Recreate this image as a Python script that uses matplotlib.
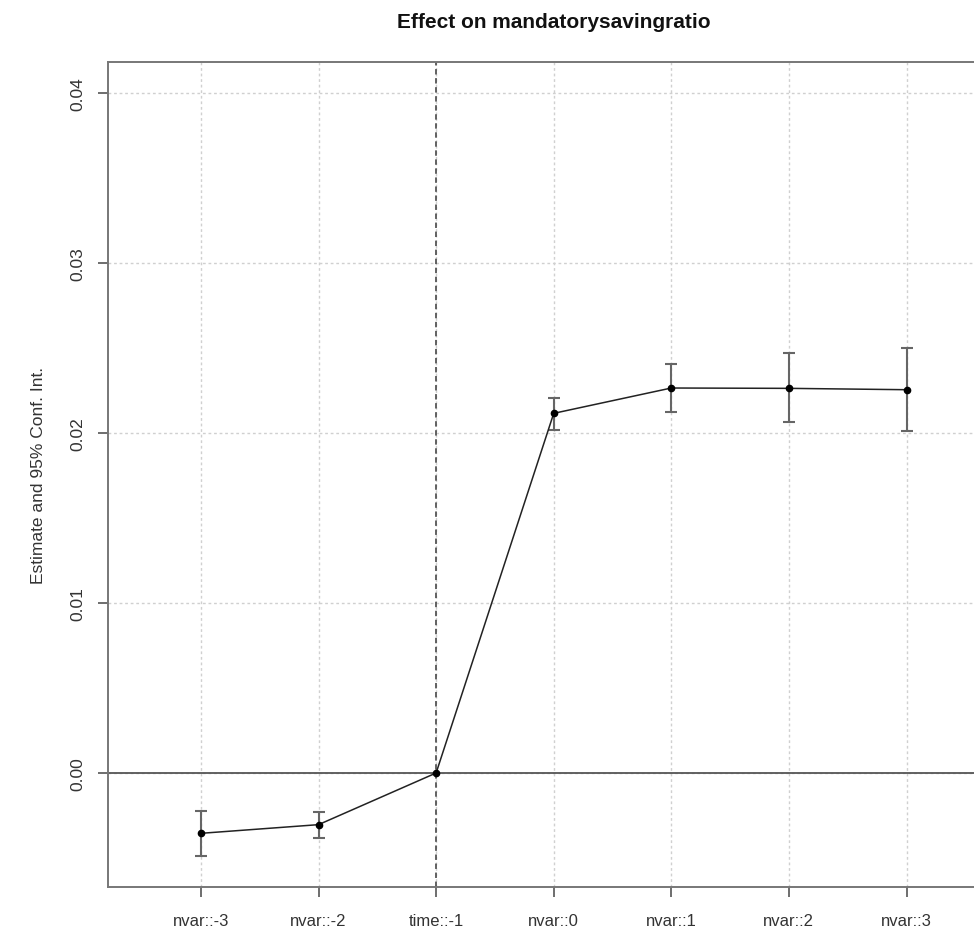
import matplotlib
matplotlib.use("Agg")
import matplotlib.pyplot as plt
import numpy as np

plt.rcParams['font.family'] = ['Liberation Sans', 'DejaVu Sans']

# coefficients de l'event study et intervalles de confiance a 95%
labels = ["nvar::-3", "nvar::-2", "time::-1", "nvar::0", "nvar::1", "nvar::2", "nvar::3"]
estimate = [-0.00355, -0.00304, 0.0, 0.02116, 0.02265, 0.02263, 0.02255]
ci_low = [-0.00486, -0.00382, 0.0, 0.02019, 0.02125, 0.02065, 0.02014]
ci_high = [-0.00222, -0.00229, 0.0, 0.02204, 0.02409, 0.02469, 0.02502]
ref_period = 3  # position de la periode de reference

x = np.arange(1, len(labels) + 1)
est = np.array(estimate)
lo = np.array(ci_low)
hi = np.array(ci_high)

fig = plt.figure(figsize=(9.74, 9.29), dpi=100)
ax = fig.add_axes([0.1109, 0.0441, 0.9152, 0.8877])

ax.set_xlim(0.21, 7.79)
ax.set_ylim(-0.00671, 0.04181)

# grille en pointilles
for yv in [0.0, 0.01, 0.02, 0.03, 0.04]:
    ax.axhline(yv, color="#d0d0d0", lw=1, ls=(0, (2, 2)), zorder=0)
for xv in x:
    ax.axvline(xv, color="#d0d0d0", lw=1, ls=(0, (2, 2)), zorder=0)

ax.axhline(0, color="#555555", lw=1.3, zorder=1)
ax.axvline(ref_period, color="#555555", lw=1.3, ls=(0, (3, 2)), zorder=1)

# barres d'erreur (sauf la reference)
m = x != ref_period
ax.errorbar(x[m], est[m], yerr=[est[m] - lo[m], hi[m] - est[m]], fmt="none",
            ecolor="#666666", elinewidth=1.5, capsize=4.5, capthick=1.5, zorder=2)
ax.plot(x, est, color="#222222", lw=1.1, zorder=3)
ax.plot(x, est, "o", color="black", ms=4.5, zorder=4)

ax.set_xticks(x)
ax.set_xticklabels(labels, fontsize=12)
ax.set_yticks([0.0, 0.01, 0.02, 0.03, 0.04])
ax.set_yticklabels(["0.00", "0.01", "0.02", "0.03", "0.04"], rotation=90, va="center",
                   fontsize=12.5)

ax.tick_params(axis="both", direction="out", length=7, width=1.2, color="#555555",
               labelcolor="#333333")
ax.tick_params(axis="x", pad=12)
ax.tick_params(axis="y", pad=9)

for s in ax.spines.values():
    s.set_color("#777777")
    s.set_linewidth(1.4)

ax.set_ylabel("Estimate and 95% Conf. Int.", fontsize=12.5, color="#333333", labelpad=18)
fig.text(0.5685, 0.976, "Effect on mandatorysavingratio", ha="center", va="center",
         fontsize=15, fontweight="bold", color="#111111")

plt.savefig("out.png", dpi=100)
